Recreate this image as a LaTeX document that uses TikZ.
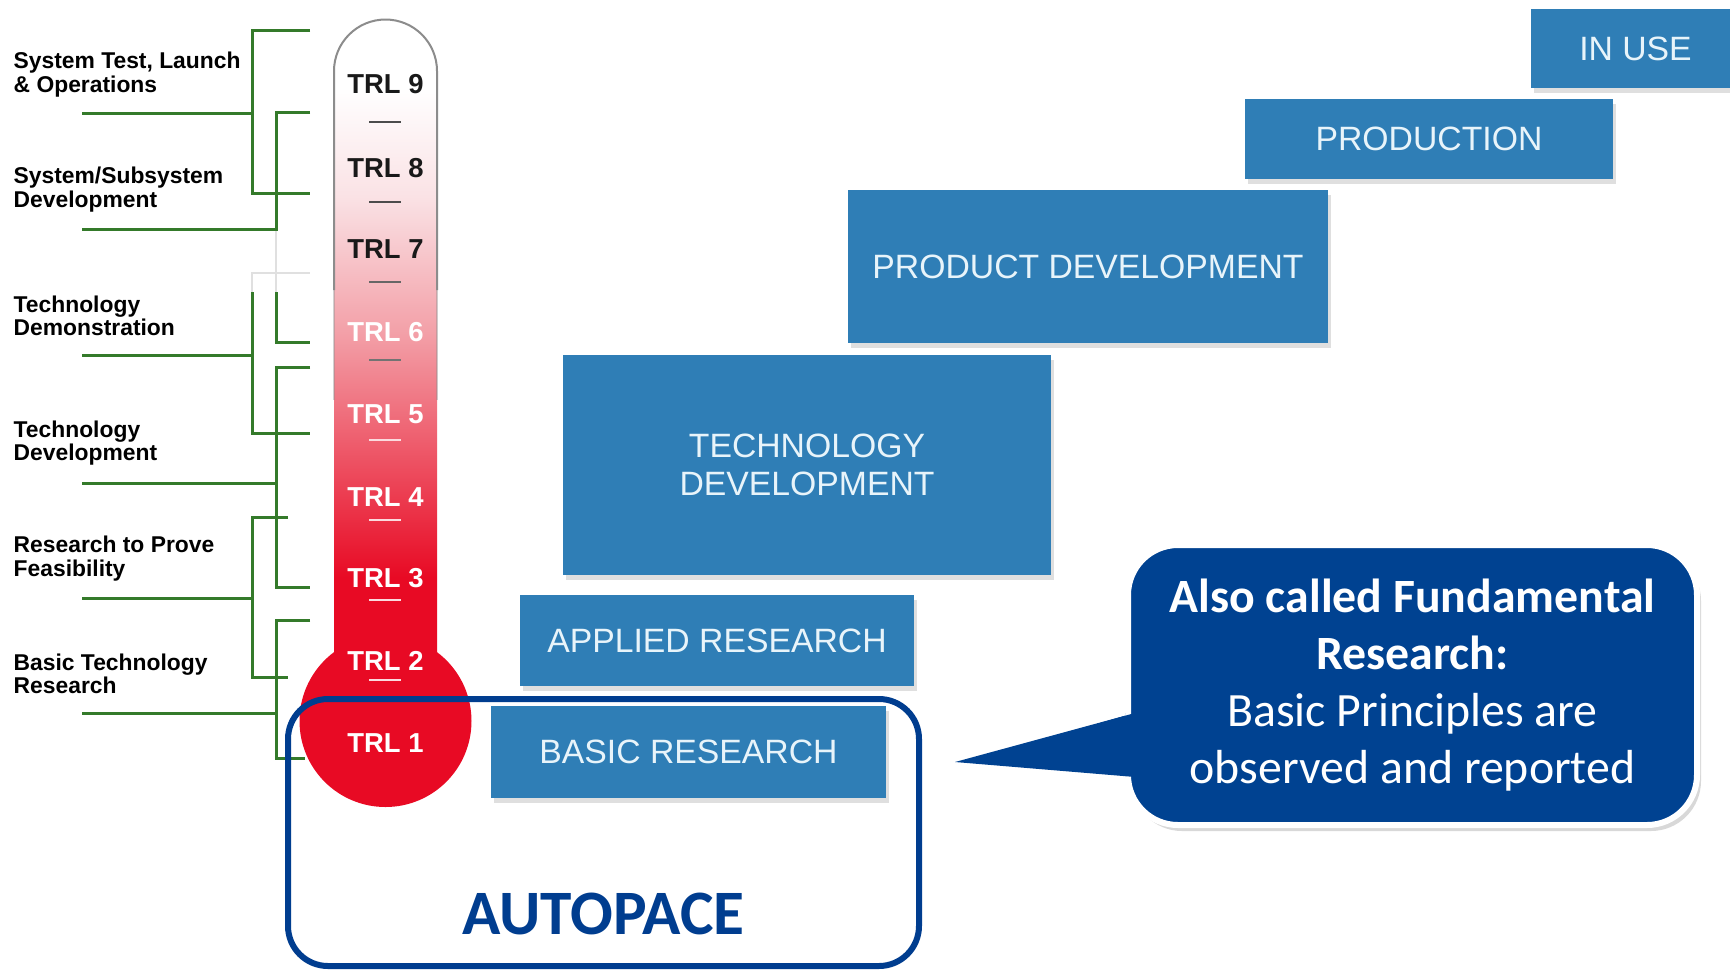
\documentclass[tikz,border=0pt]{standalone}
\usepackage{fontspec}
\setmainfont{Liberation Sans}
\newfontfamily\calibri{Carlito}
\usetikzlibrary{positioning,shadows}

\definecolor{phaseblue}{RGB}{47,126,182}
\definecolor{phasetext}{RGB}{232,244,250}
\definecolor{trlred}{RGB}{232,10,36}
\definecolor{trlpink}{RGB}{243,160,168}
\definecolor{trlblush}{RGB}{250,226,229}
\definecolor{bracketgreen}{RGB}{52,122,42}
\definecolor{frameblue}{RGB}{0,61,143}
\definecolor{calloutblue}{RGB}{0,66,145}

\pgfdeclareverticalshading{trltube}{100bp}{color(0bp)=(trlred); color(34bp)=(trlred); color(52bp)=(trlpink); color(62bp)=(trlblush); color(70bp)=(white); color(100bp)=(white)}

\tikzset{
  phase/.style={fill=phaseblue, text=phasetext, align=center, inner sep=0pt,
    font=\fontsize{9.6}{10.8}\selectfont,
    drop shadow={opacity=0.25, shadow xshift=0.3mm, shadow yshift=-0.5mm}},
  trl label/.style={font=\bfseries\fontsize{7.8}{8}\selectfont, inner sep=0pt},
  stage label/.style={anchor=west, align=left, inner sep=0pt,
    font=\bfseries\fontsize{6.5}{6.6}\selectfont},
  bracket/.style={draw=bracketgreen, line width=0.3mm},
  faint/.style={draw=black!12, line width=0.2mm}
}

\begin{document}
\begin{tikzpicture}[x=0.1mm,y=-0.1mm]
  \fill[white] (0,0) rectangle (1730,971);
  \useasboundingbox (0,0) rectangle (1730,971);

  % phases
  \node[phase, minimum width=20.9mm, minimum height=7.9mm] (in use) at (1635.5,48.5) {IN USE};
  \node[phase, minimum width=36.8mm, minimum height=8mm] (production) at (1429,139) {PRODUCTION};
  \node[phase, minimum width=48mm, minimum height=15.3mm] (product dev) at (1088,266.5) {PRODUCT DEVELOPMENT};
  \node[phase, minimum width=48.8mm, minimum height=22mm] (tech dev) at (807,465) {TECHNOLOGY\\DEVELOPMENT};
  \node[phase, minimum width=39.4mm, minimum height=9.1mm] (applied research) at (717,640.5) {APPLIED RESEARCH};
  \node[phase, minimum width=39.5mm, minimum height=9.2mm] (basic research) at (688.5,752) {BASIC RESEARCH};

  % thermometer
  \shade
    [shading=trltube]
    (334,700) -- (334,71) arc (180:360:51.5) -- (437,700) -- cycle
  ;
  \draw
    [black!45, line width=0.2mm]
    (334,290) -- (334,71) arc (180:360:51.5) -- (437,290)
  ;
  \draw[black!45, opacity=0.4, line width=0.2mm] (334,290) -- (334,400);
  \draw[black!45, opacity=0.4, line width=0.2mm] (437,290) -- (437,400);
  \fill[trlred] (385.5,721) circle (8.6mm);

  \foreach \n/\y/\col in {9/84/black!90, 8/168/black!90, 7/249/black!90,
      6/332/white, 5/414/white, 4/497/white, 3/578/white, 2/661/white, 1/743/white}
    \node[trl label, text=\col] (trl \n) at (385.5,\y) {TRL \n};

  \foreach \y/\col in {122/black!70, 202/black!70, 282/black!60, 360/black!55,
      440/white!85!trlred, 520/white!85!trlred, 600/white!85!trlred, 680/white!85!trlred}
    \draw[\col, line width=0.25mm] (369,\y) -- (401,\y);

  % brackets
  \draw[faint] (276,229) -- (276,292);
  \draw[faint] (252,292) -- (252,273) -- (310,273);
  \draw[bracket] (310,30) -- (252,30) -- (252,193) -- (310,193);
  \draw[bracket] (82,113) -- (252,113);
  \draw[bracket] (310,112) -- (276,112) -- (276,229) -- (82,229);
  \draw[bracket] (252,292) -- (252,433) -- (310,433);
  \draw[bracket] (276,292) -- (276,342) -- (310,342);
  \draw[bracket] (82,355) -- (252,355);
  \draw[bracket] (310,367) -- (276,367) -- (276,587) -- (310,587);
  \draw[bracket] (82,483) -- (276,483);
  \draw[bracket] (288,517) -- (252,517) -- (252,677) -- (288,677);
  \draw[bracket] (82,598) -- (252,598);
  \draw[bracket] (310,620) -- (276,620) -- (276,758) -- (305,758);
  \draw[bracket] (82,713) -- (276,713);

  \node[stage label] (lbl ops) at (13,74.5) {System Test, Launch\\\& Operations};
  \node[stage label] (lbl subsys) at (13,189.5) {System/Subsystem\\Development};
  \node[stage label] (lbl demo) at (13,315.5) {Technology\\Demonstration};
  \node[stage label] (lbl techdev) at (13,443) {Technology\\Development};
  \node[stage label] (lbl feas) at (13,558.5) {Research to Prove\\Feasibility};
  \node[stage label] (lbl basic) at (13,673.5) {Basic Technology\\Research};

  % autopace frame
  \node
    [draw=frameblue, line width=0.6mm, rounded corners=4mm,
     minimum width=63.1mm, minimum height=26.7mm]
    (autopace frame) at (603.5,832.5) {}
  ;
  \node
    [text=frameblue, font=\calibri\bfseries\fontsize{18}{20}\selectfont, inner sep=0pt]
    (autopace) at ([yshift=5.5mm]autopace frame.south) {AUTOPACE}
  ;

  % callout
  \coordinate (tip) at (955,762);
  \node
    [fill=calloutblue, draw=white, line width=0.6mm, rounded corners=5mm,
     minimum width=56.9mm, minimum height=28mm, text=white, align=center,
     font=\calibri\fontsize{13.6}{16.2}\selectfont,
     drop shadow={opacity=0.3, shadow xshift=0.4mm, shadow yshift=-0.6mm}]
    (callout) at (1412.5,685)
    {\bfseries Also called Fundamental\\\bfseries Research:\\Basic Principles are\\observed and reported}
  ;
  \filldraw
    [fill=calloutblue, draw=white, line width=0.5mm, line join=miter]
    ([yshift=-2.8mm]callout.west) -- (tip) -- ([yshift=-9.2mm]callout.west)
  ;
  \fill
    [calloutblue]
    ([yshift=-2.8mm,xshift=1mm]callout.west) -- (tip) -- ([yshift=-9.2mm,xshift=1mm]callout.west) -- cycle
  ;
\end{tikzpicture}
\end{document}
